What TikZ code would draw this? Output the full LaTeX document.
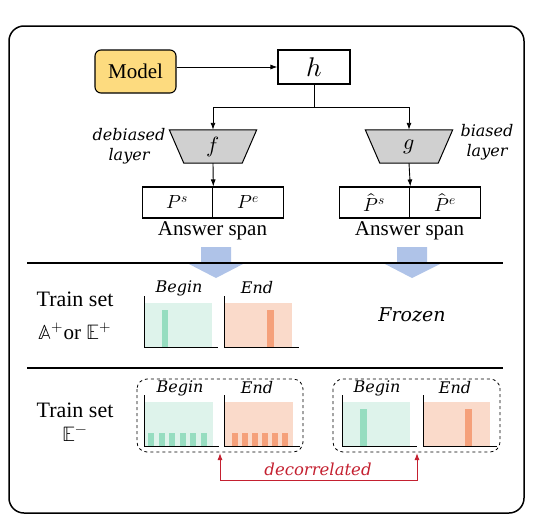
\documentclass[tikz,border=0pt]{standalone}
\usepackage{fontspec}
\usepackage{unicode-math}
\setmainfont{Liberation Serif}
\newfontfamily\dvs{DejaVu Serif}
\usetikzlibrary{arrows.meta,backgrounds}
\definecolor{modelfill}{HTML}{FDDB7F}
\definecolor{trapfill}{HTML}{D0D0D0}
\definecolor{bluearr}{HTML}{AFC3E8}
\definecolor{bfill}{HTML}{DEF3EB}
\definecolor{bbar}{HTML}{96DDC0}
\definecolor{efill}{HTML}{FADACA}
\definecolor{ebar}{HTML}{F5A07A}
\definecolor{decred}{HTML}{C42030}
\tikzset{
  lab/.style={font=\fontsize{21}{25}\selectfont, inner sep=0pt},
  itl/.style={font=\dvs\itshape\fontsize{16}{20}\selectfont, inner sep=0pt, align=center},
  arr/.style={-{Latex[length=7pt,width=5pt]}, line width=0.9pt},
  boxn/.style={draw, line width=1.1pt, inner sep=0pt},
  axisl/.style={line width=1pt},
  dbox/.style={dashed, line width=0.8pt, rounded corners=10pt},
  trap/.style={inner sep=0pt, minimum width=87pt, minimum height=33pt, font=\fontsize{22}{24}\selectfont},
  spanbox/.style={draw, line width=1.1pt, minimum width=70.5pt, minimum height=31pt, inner sep=0pt, font=\fontsize{19}{22}\selectfont},
}
\begin{document}
\begin{tikzpicture}[x=1pt,y=-1pt]
\useasboundingbox (0,0) rectangle (553,522);
\draw[line width=1.5pt, rounded corners=15pt] (9,26) rectangle (524,513);

% top
\node[boxn, fill=modelfill, rounded corners=6pt, minimum width=81pt, minimum height=43pt, font=\fontsize{21}{25}\selectfont] (model) at (135.5,71.5) {Model};
\node[boxn, minimum width=72pt, minimum height=34pt, font=\fontsize{27}{30}\selectfont] (h) at (314,67) {$h$};
\draw[arr] (h.west -| model.east) -- (h.west);

\node[trap] (f) at (213,146.5) {$f$};
\node[trap] (g) at (409,146.5) {$g$};
\begin{scope}[on background layer]
\foreach \t in {f,g}{
  \draw[line width=1pt, fill=trapfill] (\t.north west) -- (\t.north east) -- ([xshift=-14.5pt]\t.south east) -- ([xshift=14.5pt]\t.south west) -- cycle;
}
\end{scope}
\node[itl] (dl) at (129,146) {debiased\\layer};
\node[itl] (bl) at (487,142) {biased\\layer};

\coordinate (br) at (314,107);
\draw[line width=0.9pt] (h.south) -- (br);
\draw[arr] (br) -| (f.north);
\draw[arr] (br) -| (g.north);

\node[spanbox] (ps) at (177.5,202.5) {$P^{s}$};
\node[spanbox] (pe) at (248,202.5) {$P^{e}$};
\node[spanbox] (hps) at (374.5,202.5) {$\hat{P}^{s}$};
\node[spanbox] (hpe) at (445,202.5) {$\hat{P}^{e}$};
\draw[arr] (f.south) -- (ps.north east);
\draw[arr] (g.south) -- (hps.north east);
\node[lab] (as1) at (212.5,231) {Answer span};
\node[lab] (as2) at (409.5,231) {Answer span};

% blue arrows
\fill[bluearr] (201,247) -- (231,247) -- (231,263) -- (245,263) -- (216,278) -- (187,263) -- (201,263) -- cycle;
\fill[bluearr] (397,247) -- (427,247) -- (427,263) -- (442,263) -- (412,278) -- (383,263) -- (397,263) -- cycle;

% separators
\draw[line width=1.1pt] (27,263) -- (503,263);
\draw[line width=1.1pt] (27,368) -- (503,368);

% row 1
\node[font=\fontsize{22}{26}\selectfont, inner sep=0pt] (ts1) at (75,299) {Train set};
\node[font=\fontsize{21}{25}\selectfont, inner sep=0pt] (ae) at (75,331) {$\mathbb{A}^{+}$or $\mathbb{E}^{+}$};
\fill[bfill] (144,303) rectangle (212,347);
\fill[bbar] (162,310) rectangle (168,347);
\draw[axisl] (144,296) -- (144,347) -- (218,347);
\node[itl] (b1) at (179,288) {Begin};
\fill[efill] (224,303) rectangle (292,347);
\fill[ebar] (267,310) rectangle (274,347);
\draw[axisl] (224,296) -- (224,347) -- (299,347);
\node[itl] (e1) at (257,288) {End};
\node[itl, font=\dvs\itshape\fontsize{19}{22}\selectfont] (fr) at (412,315) {Frozen};

% row 2
\node[font=\fontsize{22}{26}\selectfont, inner sep=0pt] (ts2) at (75,410) {Train set};
\node[font=\fontsize{21}{25}\selectfont, inner sep=0pt] (em) at (75,434) {$\mathbb{E}^{-}$};
\draw[dbox] (137,379) rectangle (303,452);
\draw[dbox] (333,379) rectangle (500,452);

\fill[bfill] (144,402) rectangle (213,446);
\foreach \i in {0,...,5} \fill[bbar] ({148+10.6*\i},433) rectangle ({154+10.6*\i},446);
\draw[axisl] (144,395) -- (144,446) -- (219,446);
\node[itl] (b2) at (180,388) {Begin};
\fill[efill] (224,402) rectangle (293,446);
\foreach \i in {0,...,5} \fill[ebar] ({232+10*\i},433) rectangle ({237.5+10*\i},446);
\draw[axisl] (224,395) -- (224,446) -- (300,446);
\node[itl] (e2) at (257,388) {End};

\fill[bfill] (342,402) rectangle (410,446);
\fill[bbar] (360,409) rectangle (367,446);
\draw[axisl] (342,395) -- (342,446) -- (417,446);
\node[itl] (b3) at (377,388) {Begin};
\fill[efill] (423,402) rectangle (490,446);
\fill[ebar] (465,409) rectangle (472,446);
\draw[axisl] (423,395) -- (423,446) -- (497,446);
\node[itl] (e3) at (455,388) {End};

% decorrelated
\coordinate (d1) at (220,453);
\coordinate (d2) at (417,453);
\coordinate (db) at (220,480);
\draw[decred, line width=1pt, {Latex[length=7pt,width=5pt]}-{Latex[length=7pt,width=5pt]}] (d1) -- (db) -| (d2);
\node[itl, text=decred, font=\dvs\itshape\fontsize{16.5}{19}\selectfont] (dec) at (318,469) {decorrelated};
\end{tikzpicture}
\end{document}
